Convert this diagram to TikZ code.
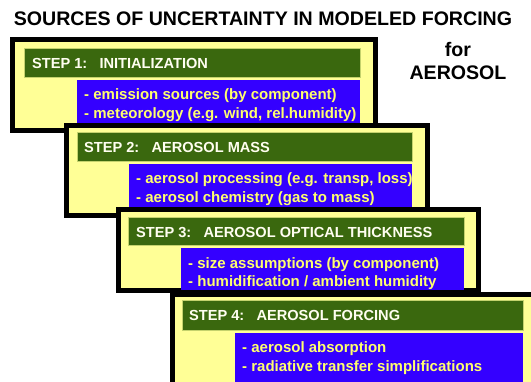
\documentclass[tikz,border=0pt]{standalone}
\usepackage{fontspec}
\setmainfont{Liberation Sans}
\definecolor{cardyellow}{RGB}{255,255,150}
\definecolor{bargreen}{RGB}{58,104,14}
\definecolor{boxblue}{RGB}{52,0,255}
\definecolor{textyellow}{RGB}{255,255,110}
\tikzset{
  card/.style={draw=black, line width=5pt, fill=cardyellow},
  bar/.style={draw=cardyellow!70!bargreen, line width=0.8pt, fill=bargreen},
  listbox/.style={fill=boxblue},
  steptext/.style={anchor=west, inner sep=0pt, text=white!94!yellow, font=\bfseries\fontsize{14.6}{16}\selectfont},
  itemtext/.style={anchor=west, inner sep=0pt, text=textyellow, font=\bfseries\fontsize{15}{16}\selectfont},
  headtext/.style={inner sep=0pt, font=\bfseries\fontsize{19.6}{22}\selectfont}
}
\begin{document}
\begin{tikzpicture}[x=1pt, y=-1pt]
      \useasboundingbox[fill=white] (0, 0) rectangle (531, 382);
      \node[headtext] (title) at (263, 19) {SOURCES OF UNCERTAINTY IN MODELED FORCING};
      \node[headtext] (for) at (458, 49) {for};
      \node[headtext] (aerosol) at (458, 73) {AEROSOL};
      % step 1
      \draw[card] (12, 40) rectangle (375, 131);
      \draw[bar] (24, 48) rectangle (360, 77);
      \fill[listbox] (77, 80) rectangle (360, 127);
      \node[steptext] (s1) at (32, 63) {STEP 1:\ \ \ INITIALIZATION};
      \node[itemtext] (s1a) at (84, 96) {- emission sources (by component)};
      \node[itemtext] (s1b) at (84, 115) {- meteorology (e.g. wind, rel.humidity)};
      % step 2
      \draw[card] (66, 126) rectangle (427, 216);
      \draw[bar] (77, 132) rectangle (412, 161);
      \fill[listbox] (129, 164) rectangle (412, 212);
      \node[steptext] (s2) at (84, 147) {STEP 2:\ \ \ AEROSOL MASS};
      \node[itemtext] (s2a) at (136, 180) {- aerosol processing (e.g. transp, loss)};
      \node[itemtext] (s2b) at (136, 199) {- aerosol chemistry (gas to mass)};
      % step 3
      \draw[card] (118, 210) rectangle (478, 291);
      \draw[bar] (128, 217) rectangle (464, 245);
      \fill[listbox] (181, 248) rectangle (464, 290);
      \node[steptext] (s3) at (136, 232) {STEP 3:\ \ \ AEROSOL OPTICAL THICKNESS};
      \node[itemtext] (s3a) at (188, 265) {- size assumptions (by component)};
      \node[itemtext] (s3b) at (188, 283) {- humidification / ambient humidity};
      % step 4
      \draw[card] (172, 295) rectangle (534, 392);
      \draw[bar] (182, 300) rectangle (523, 330);
      \fill[listbox] (235, 333) rectangle (523, 392);
      \node[steptext] (s4) at (189, 315) {STEP 4:\ \ \ AEROSOL FORCING};
      \node[itemtext] (s4a) at (242, 349) {- aerosol absorption};
      \node[itemtext] (s4b) at (242, 368) {- radiative transfer simplifications};
    \end{tikzpicture}
\end{document}
